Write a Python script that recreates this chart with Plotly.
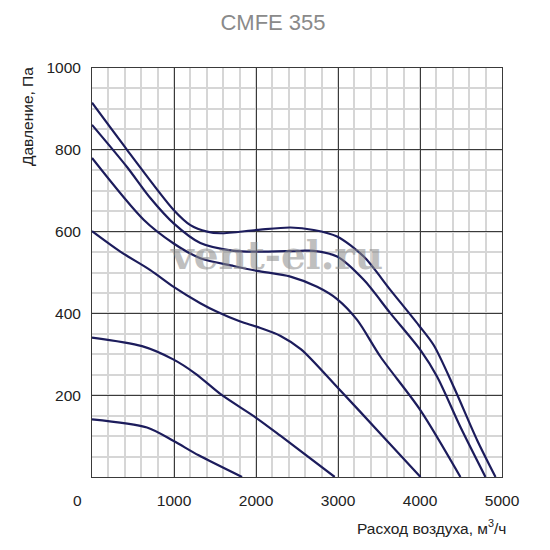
import plotly.graph_objects as go

# Fan curves CMFE 355 (airflow m3/h vs pressure Pa)
c1_x = [0, 427, 996, 1200, 1403, 1565, 2013, 2420, 2704, 2989, 3314, 3640, 3985, 4168, 4412, 4697, 4921]
c1_y = [915, 800, 653, 616, 600, 596, 604, 610, 604, 588, 539, 457, 371, 322, 220, 90, 0]

c2_x = [0, 427, 711, 996, 1321, 1728, 2013, 2542, 2704, 2989, 3314, 3640, 4006, 4209, 4493, 4798]
c2_y = [861, 758, 682, 620, 572, 553, 551, 553, 553, 539, 482, 400, 310, 245, 122, 0]

c3_x = [0, 630, 996, 1321, 1728, 2013, 2420, 2745, 2989, 3233, 3518, 4006, 4493]
c3_y = [780, 629, 571, 535, 516, 504, 490, 465, 435, 384, 294, 163, 0]

c4_x = [0, 345, 711, 996, 1321, 1525, 1809, 2013, 2300, 2550, 2989, 3518, 4006]
c4_y = [601, 551, 506, 465, 425, 404, 380, 367, 345, 312, 220, 106, 0]

c5_x = [0, 610, 996, 1260, 1586, 1993, 2297, 2960]
c5_y = [341, 320, 287, 253, 200, 146, 101, 0]

c6_x = [0, 671, 996, 1301, 1830]
c6_y = [141, 121, 88, 53, 0]

curves = [(c1_x, c1_y), (c2_x, c2_y), (c3_x, c3_y), (c4_x, c4_y), (c5_x, c5_y), (c6_x, c6_y)]

x_ticks = [1000, 2000, 3000, 4000, 5000]
y_ticks = [200, 400, 600, 800, 1000]

title_text = "CMFE 355"
x_title = "Расход воздуха, м<sup>3</sup>/ч"
y_title = "Давление, Па"
watermark = "vent-el.ru"

line_color = "#1c1c5c"
font_family = "Liberation Sans, Arial, sans-serif"

fig = go.Figure()
for cx, cy in curves:
    fig.add_trace(go.Scatter(x=cx, y=cy, mode="lines",
                             line=dict(color=line_color, width=2.2, shape="spline", smoothing=0.8),
                             showlegend=False, hoverinfo="skip"))

axis_common = dict(
    showline=True, mirror=True, linecolor="#3a3a3a", linewidth=1,
    showgrid=True, gridcolor="#3a3a3a", gridwidth=1,
    zeroline=False, ticks="outside", tickcolor="rgba(0,0,0,0)",
    tickfont=dict(family=font_family, size=15.5, color="#222222"),
)

fig.update_xaxes(range=[0, 5000], tickvals=x_ticks, ticklen=9,
                 minor=dict(dtick=200, showgrid=True, gridcolor="#d6d6d6", gridwidth=2, ticks=""),
                 **axis_common)
fig.update_yaxes(range=[0, 1000], tickvals=y_ticks, ticklen=7,
                 minor=dict(dtick=50, showgrid=True, gridcolor="#d6d6d6", gridwidth=2, ticks=""),
                 **axis_common)

fig.update_layout(
    width=550, height=550,
    margin=dict(l=92, r=48, t=68, b=73),
    paper_bgcolor="white", plot_bgcolor="white",
    title=dict(text=title_text, x=273 / 550, xanchor="center", y=1 - 22 / 550, yanchor="middle",
               font=dict(family=font_family, size=22, color="#8a8a8a")),
)

fig.add_annotation(text=y_title, xref="paper", yref="paper", x=(27 - 92) / 410, y=(477 - 117) / 409,
                   textangle=-90, showarrow=False, xanchor="center", yanchor="middle",
                   font=dict(family=font_family, size=15.5, color="#222222"))
fig.add_annotation(text=x_title, xref="paper", yref="paper", x=(508 - 92) / 410, y=(477 - 527) / 409,
                   showarrow=False, xanchor="right", yanchor="middle",
                   font=dict(family=font_family, size=15.5, color="#222222"))
fig.add_annotation(text="0", xref="paper", yref="paper", x=(77 - 92) / 410, y=(477 - 500) / 409,
                   showarrow=False, xanchor="center", yanchor="middle",
                   font=dict(family=font_family, size=15.5, color="#222222"))
fig.add_annotation(text=watermark, xref="paper", yref="paper", x=(276 - 92) / 410, y=(477 - 255) / 409,
                   showarrow=False, xanchor="center", yanchor="middle", opacity=0.55,
                   font=dict(family="DejaVu Serif", size=39, color="#8c8c8c", weight="bold"))

fig.write_html("out.html")
